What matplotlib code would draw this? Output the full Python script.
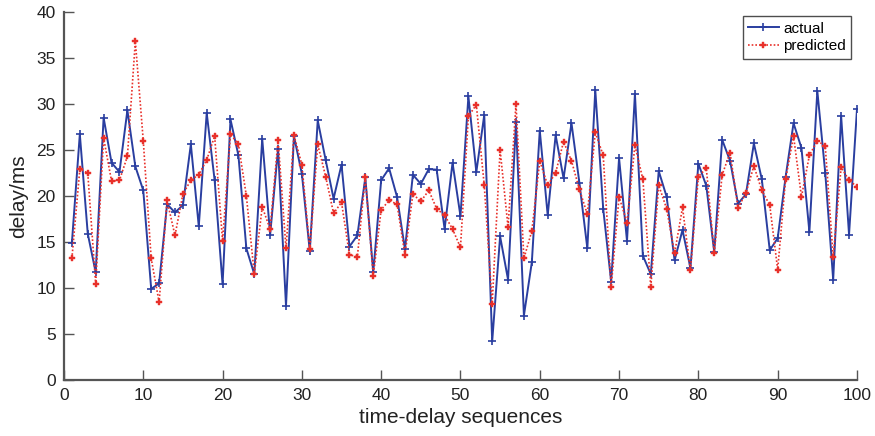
import matplotlib
matplotlib.use("Agg")
import matplotlib.pyplot as plt
import numpy as np

plt.rcParams['font.family'] = ['Liberation Sans', 'DejaVu Sans']

seq = list(range(1, 101))

actual = [
    14.9, 26.7, 15.9, 11.7, 28.5, 23.6, 22.6, 29.3, 23.2, 20.6,
    9.9, 10.5, 19.1, 18.2, 19.0, 25.6, 16.7, 29.0, 21.7, 10.4,
    28.3, 24.4, 14.3, 11.5, 26.2, 15.8, 25.1, 8.05, 26.5, 22.4,
    14.0, 28.2, 23.9, 19.7, 23.4, 14.5, 15.7, 22.0, 11.7, 21.7,
    23.0, 19.9, 14.2, 22.3, 21.3, 22.9, 22.85, 16.4, 23.6, 17.8,
    30.8, 22.6, 28.8, 4.2, 15.6, 10.9, 28.0, 7.0, 12.8, 27.1,
    17.9, 26.6, 21.9, 27.9, 21.4, 14.3, 31.5, 18.6, 10.7, 24.1,
    15.1, 31.1, 13.5, 11.5, 22.7, 19.9, 13.0, 16.3, 12.15, 23.5,
    21.1, 13.9, 26.1, 23.8, 19.15, 20.2, 25.7, 21.8, 14.1, 15.4,
    22.05, 27.9, 25.2, 16.1, 31.4, 22.5, 10.9, 28.7, 15.8, 29.4,
]

predicted = [
    13.2, 22.9, 22.5, 10.4, 26.3, 21.6, 21.7, 24.3, 36.8, 26.0,
    13.2, 8.45, 19.5, 15.7, 20.2, 21.7, 22.3, 23.9, 26.5, 15.1,
    26.7, 25.6, 20.0, 11.5, 18.8, 16.4, 26.1, 14.3, 26.6, 23.4,
    14.25, 25.6, 22.1, 18.1, 19.3, 13.6, 13.4, 22.0, 11.3, 18.5,
    19.5, 19.1, 13.6, 20.2, 19.4, 20.6, 18.6, 17.9, 16.4, 14.4,
    28.65, 29.9, 21.15, 8.3, 25.0, 16.6, 30.0, 13.2, 16.2, 23.8,
    21.15, 22.5, 25.9, 23.8, 20.7, 18.0, 26.9, 24.4, 10.1, 19.9,
    17.1, 25.5, 21.8, 10.1, 21.15, 18.6, 13.75, 18.75, 11.9, 22.1,
    23.0, 13.8, 22.3, 24.7, 18.7, 20.3, 23.25, 20.6, 19.0, 12.0,
    21.8, 26.5, 19.9, 24.4, 26.0, 25.4, 13.35, 23.1, 21.7, 21.0,
]

x_ticks = list(range(0, 101, 10))
y_ticks = list(range(0, 41, 5))

blue = '#2a3ea0'
red = '#e8302a'
spine_gray = '#555555'

fig = plt.figure(figsize=(8.75, 4.36), dpi=100)
ax = fig.add_axes([0.0731, 0.1284, 0.9063, 0.8446])

ax.plot(seq, actual, color=blue, linestyle='-', linewidth=1.4,
        marker='+', markersize=6, markeredgewidth=1.2, label='actual')
ax.plot(seq, predicted, color=red, linestyle=(0, (1, 1.2)), linewidth=1.2,
        marker='P', markersize=5, markeredgewidth=0.3, label='predicted')

ax.set_xlim(0, 100)
ax.set_ylim(0, 40)
ax.set_xticks(x_ticks)
ax.set_yticks(y_ticks)

for side in ('top', 'right'):
    ax.spines[side].set_visible(False)
for side in ('left', 'bottom'):
    ax.spines[side].set_color(spine_gray)
    ax.spines[side].set_linewidth(1.6)

ax.tick_params(direction='in', length=7, width=1.0, colors='#222222',
               labelsize=12.5, pad=6)
ax.tick_params(axis='both', color=spine_gray)

ax.set_xlabel('time-delay sequences', fontsize=15, color='#222222', labelpad=3)
ax.set_ylabel('delay/ms', fontsize=15, color='#222222', labelpad=6)

leg = ax.legend(loc='upper right', bbox_to_anchor=(0.993, 0.988),
                fontsize=11, frameon=True, fancybox=False,
                handlelength=2.0, handletextpad=0.3, borderpad=0.35,
                labelspacing=0.25, borderaxespad=0.0)
leg.get_frame().set_edgecolor('#222222')
leg.get_frame().set_linewidth(1.0)

fig.savefig('out.png', dpi=100)
